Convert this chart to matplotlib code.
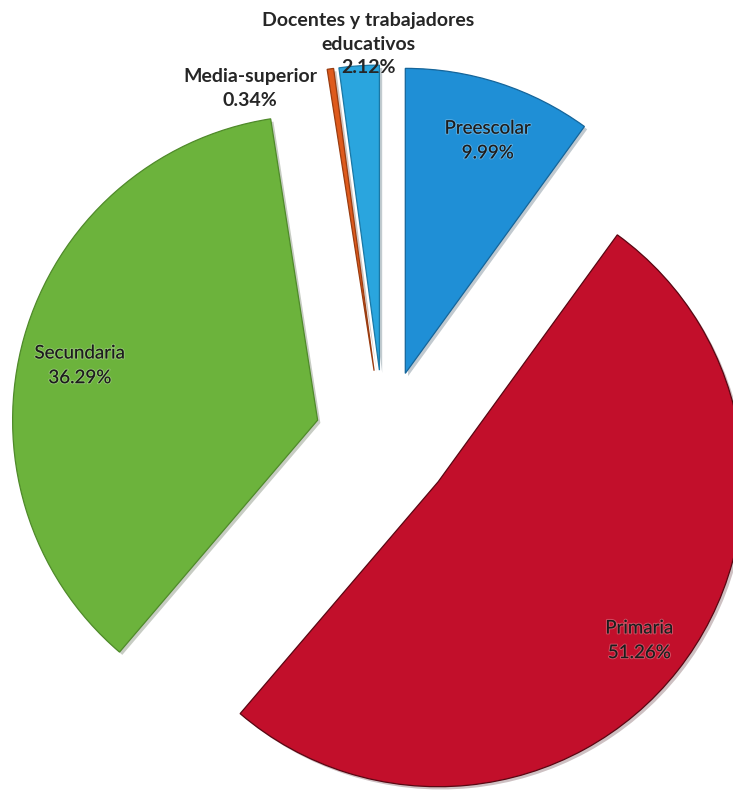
import numpy as np
import matplotlib.pyplot as plt
import matplotlib.patheffects as pe

plt.rcParams['font.family'] = ['Lato', 'DejaVu Sans']

# datos
categorias = ['Preescolar', 'Primaria', 'Secundaria', 'Media-superior',
              'Docentes y trabajadores\neducativos']
porcentajes = [9.99, 51.26, 36.29, 0.34, 2.12]
etiquetas_pct = ['9.99%', '51.26%', '36.29%', '0.34%', '2.12%']
colores = ['#1f8fd6', '#c20f2b', '#6cb33c', '#de5a1c', '#2aa5de']
bordes = ['#15659a', '#5a0612', '#4f8a2a', '#9a3c10', '#1a78a6']

fig = plt.figure(figsize=(7.33, 7.91), dpi=100)
ax = fig.add_axes([0, 0, 1, 1])

# explode en unidades de datos (pixeles)
wedges, _ = ax.pie(porcentajes, colors=colores, startangle=90, counterclock=False,
                   explode=[69] * 5, radius=305, center=(384, 352),
                   wedgeprops=dict(linewidth=0.9), frame=True)
for w, b in zip(wedges, bordes):
    w.set_edgecolor(b)
    w.set_path_effects([pe.SimplePatchShadow(offset=(2, -2), alpha=0.25),
                        pe.Normal()])

# posicion de etiquetas: fraccion del radio y angulo (None = angulo medio)
dist = [0.81, 0.84, 0.80, 1.01, 1.07]
angulo = [70.5, None, 167.0, 113.7, 92.0]
dentro = [True, True, True, False, False]
for w, cat, pct, d, a, inn in zip(wedges, categorias, etiquetas_pct, dist, angulo, dentro):
    if a is None:
        a = (w.theta1 + w.theta2) / 2
    ang = np.deg2rad(a)
    cx, cy = w.center
    x = cx + d * w.r * np.cos(ang)
    y = cy + d * w.r * np.sin(ang)
    if inn:
        ax.text(x, y, cat + '\n' + pct, ha='center', va='center', fontsize=13.5,
                color='#1c1c1c', linespacing=1.55,
                path_effects=[pe.withStroke(linewidth=1.5, foreground=(1, 1, 1, 0.25))])
    else:
        ax.text(x, y, cat + '\n' + pct, ha='center', va='center', fontsize=14,
                color='#262626', fontweight='bold', linespacing=1.45)

ax.set_xlim(0, 733)
ax.set_ylim(0, 791)
ax.set_aspect('equal')
ax.axis('off')

fig.savefig('out.png', dpi=100, facecolor='white')
